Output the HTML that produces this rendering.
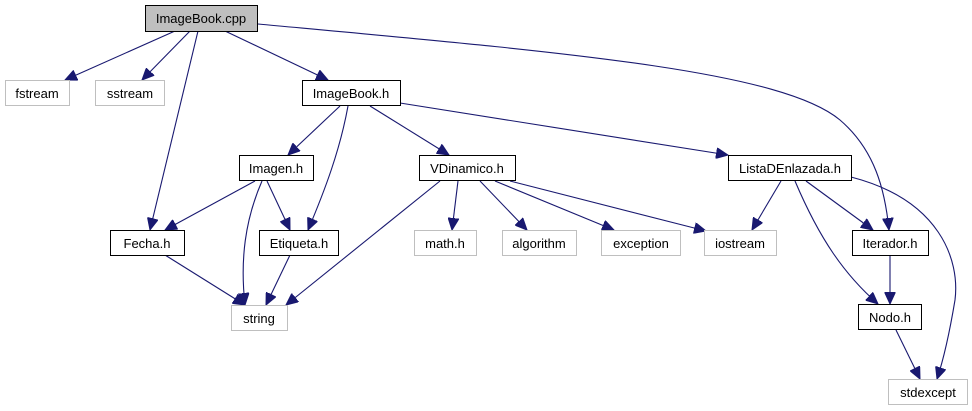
<!DOCTYPE html>
<html><head><style>
html,body{margin:0;padding:0;background:#fff;}
svg{display:block;}
text{font-family:"Liberation Sans",Arial,sans-serif;font-size:13px;fill:#000;text-anchor:middle;}
.n{fill:#fff;stroke:#000;stroke-width:1;}
.g{fill:#fff;stroke:#bfbfbf;stroke-width:1;}
.e{fill:none;stroke:#191970;stroke-width:1.1;marker-end:url(#a);}
</style></head><body>
<svg width="972" height="411" viewBox="0 0 972 411" xmlns="http://www.w3.org/2000/svg">
<defs><marker id="a" markerUnits="userSpaceOnUse" markerWidth="13" markerHeight="11" refX="12" refY="5.5" orient="auto"><path d="M0,0 L12,5.5 L0,11 Z" fill="#191970" stroke="#191970"/></marker></defs>
<g>
<path class="e" d="M175,31 L65,80"/>
<path class="e" d="M190,31 L142,80"/>
<path class="e" d="M198,31 L150,230"/>
<path class="e" d="M225,31 L328,80"/>
<path class="e" d="M258,24 C560,52 780,70 840,120 C875,150 885,190 889,230"/>
<path class="e" d="M340,106 L288,155"/>
<path class="e" d="M348,106 C340,150 325,190 308,230"/>
<path class="e" d="M370,106 L449,155"/>
<path class="e" d="M400,103 L728,155"/>
<path class="e" d="M255,181 L165,230"/>
<path class="e" d="M267,181 L290,230"/>
<path class="e" d="M262,181 C245,220 240,260 245,305"/>
<path class="e" d="M165,255 L245,305"/>
<path class="e" d="M290,255 L266,305"/>
<path class="e" d="M440,181 L286,305"/>
<path class="e" d="M458,181 L452,230"/>
<path class="e" d="M480,181 L527,230"/>
<path class="e" d="M495,181 L614,230"/>
<path class="e" d="M510,181 L706,231"/>
<path class="e" d="M781,181 L752,230"/>
<path class="e" d="M806,181 L873,230"/>
<path class="e" d="M795,181 C820,240 845,275 878,304"/>
<path class="e" d="M851,177 C940,200 960,260 955,300 C950,330 945,355 937,379"/>
<path class="e" d="M890,256 L890,304"/>
<path class="e" d="M896,330 L920,379"/>
</g>
<rect x="145.5" y="5.5" width="112" height="26" fill="#bfbfbf" stroke="#000"/><text x="201" y="23">ImageBook.cpp</text>
<rect class="g" x="5.5" y="80.5" width="64" height="25"/><text x="37" y="98">fstream</text>
<rect class="g" x="95.5" y="80.5" width="69" height="25"/><text x="130" y="98">sstream</text>
<rect class="n" x="302.5" y="80.5" width="98" height="25"/><text x="351" y="98">ImageBook.h</text>
<rect class="n" x="239.5" y="155.5" width="74" height="25"/><text x="276" y="173">Imagen.h</text>
<rect class="n" x="419.5" y="155.5" width="96" height="25"/><text x="467" y="173">VDinamico.h</text>
<rect class="n" x="728.5" y="155.5" width="123" height="25"/><text x="790" y="173">ListaDEnlazada.h</text>
<rect class="n" x="110.5" y="230.5" width="74" height="25"/><text x="147" y="248">Fecha.h</text>
<rect class="n" x="259.5" y="230.5" width="79" height="25"/><text x="299" y="248">Etiqueta.h</text>
<rect class="g" x="414.5" y="230.5" width="62" height="25"/><text x="445" y="248">math.h</text>
<rect class="g" x="502.5" y="230.5" width="74" height="25"/><text x="539" y="248">algorithm</text>
<rect class="g" x="601.5" y="230.5" width="79" height="25"/><text x="641" y="248">exception</text>
<rect class="g" x="704.5" y="230.5" width="72" height="25"/><text x="740" y="248">iostream</text>
<rect class="n" x="852.5" y="230.5" width="76" height="25"/><text x="890" y="248">Iterador.h</text>
<rect class="g" x="231.5" y="305.5" width="56" height="25"/><text x="259" y="323">string</text>
<rect class="n" x="858.5" y="304.5" width="63" height="25"/><text x="890" y="322">Nodo.h</text>
<rect class="g" x="888.5" y="379.5" width="79" height="25"/><text x="928" y="397">stdexcept</text>
</svg>
</body></html>
